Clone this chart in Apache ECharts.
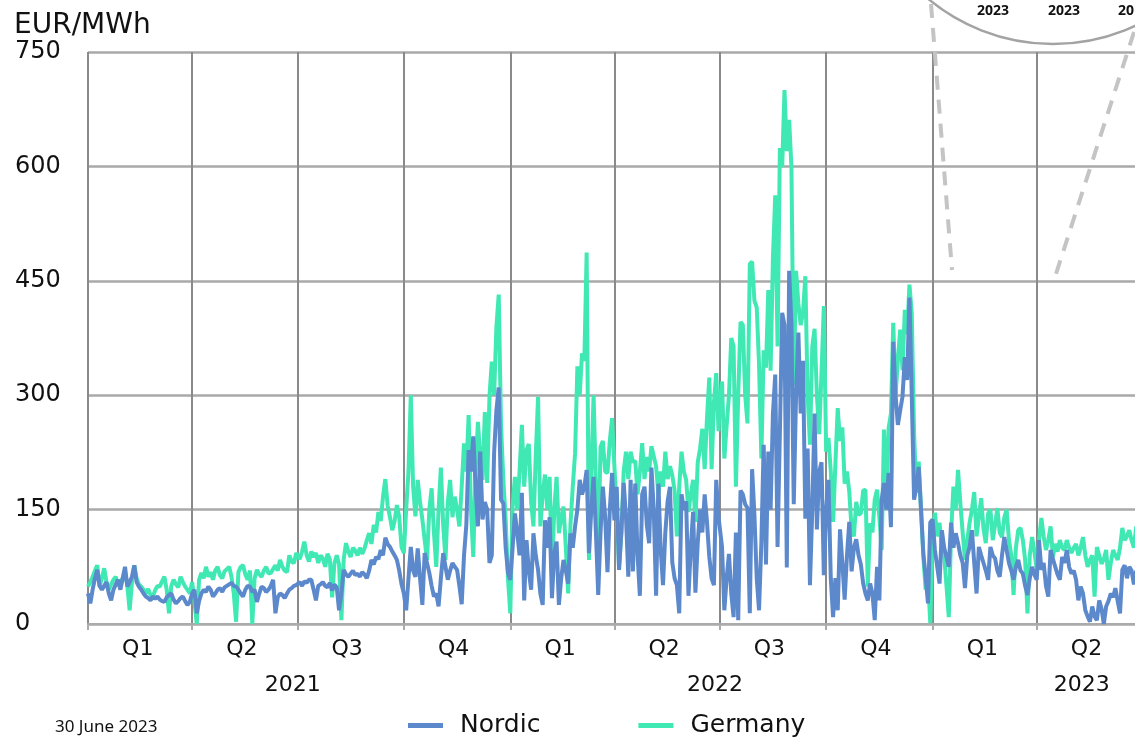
<!DOCTYPE html>
<html>
<head>
<meta charset="utf-8">
<title>Nordic vs Germany power price</title>
<script src="https://cdn.jsdelivr.net/npm/echarts@6/dist/echarts.min.js"></script>
<style>
  html, body { margin: 0; padding: 0; background: #fff; }
  #chart { width: 1135px; height: 739px; }
</style>
</head>
<body>
<div id="chart"></div>
<script>
// day index (from 1 Jan 2021) where each quarter starts, last one = 1 Jul 2023
const quarterStarts = [0, 90, 181, 273, 365, 455, 546, 638, 730, 820, 911];
const quarterLabels = ["Q1", "Q2", "Q3", "Q4", "Q1", "Q2", "Q3", "Q4", "Q1", "Q2"];
const yearLabels = ["2021", "2022", "2023"];
const yearLabelDays = [177, 542, 859];
const stepDays = 2; // one reading every second day
const insetLabels = ["2023", "2023", "20"];

// EUR/MWh, Germany, per quarter
const de21q1 = [49,55,62,70,77,49,60,73,55,45,52,58,62,50,55,60,67,50,18,55,77,60,52,49,45,40,46,38,36,44,50,49,56,62,45,14,50,58,52,48,62,55,49,45,40];
const de21q2 = [55,30,0,58,67,60,75,62,68,58,70,75,64,60,69,72,75,62,40,3,68,75,77,65,58,70,0,60,71,65,62,70,75,66,67,72,77,70,84,75,70,68,90,82,80,93];
const de21q3 = [93,85,95,108,90,82,95,88,93,80,90,86,75,92,85,35,80,90,78,5,85,106,95,88,100,96,90,100,92,99,110,119,105,130,120,147,135,167,190,155,140,123,135,156,140,101];
const de21q4 = [93,150,200,300,180,141,189,160,137,110,84,150,178,120,75,150,205,130,84,160,189,140,167,150,128,180,237,200,274,150,88,200,265,220,189,278,185,298,344,300,390,432,260,189,137,60];
const de22q1 = [14,154,193,150,200,261,180,228,236,160,128,220,298,128,170,196,150,193,66,150,193,119,140,154,100,40,130,180,224,338,300,355,345,487,84,200,300,180,93,232,240,200,198,240,270];
const de22q2 = [206,150,75,120,200,226,190,226,212,214,170,200,237,190,219,200,233,220,207,170,200,180,226,190,207,195,175,115,180,226,200,189,147,170,189,134,212,230,256,203,270,323,203,290,329,253];
const de22q3 = [290,318,217,260,300,375,364,180,300,396,392,300,263,472,475,424,415,340,217,359,336,438,332,480,562,364,624,599,700,620,661,599,313,463,420,392,408,456,300,235,364,387,300,249,330,417];
const de22q4 = [226,244,200,134,210,283,240,258,184,200,173,124,115,160,143,145,175,176,49,132,120,163,176,140,97,255,158,257,276,395,300,346,386,333,412,380,445,407,250,172,213,150,88,45,60,1];
const de23q1 = [120,146,115,133,100,90,50,9,119,180,150,202,158,120,84,110,133,150,173,115,140,165,125,106,145,150,110,130,152,120,114,140,150,110,90,38,100,123,126,110,84,14,90,114,95];
const de23q2 = [71,110,139,115,97,110,128,88,105,95,110,100,97,110,100,93,100,105,90,100,114,90,75,84,90,36,101,90,79,85,97,58,80,97,90,84,100,126,110,115,123,110,100,128,110,125];

// EUR/MWh, Nordic system, per quarter
const no21q1 = [40,27,45,60,71,50,45,50,55,40,31,45,52,58,45,60,75,49,55,62,77,55,49,45,40,36,34,31,36,33,36,32,30,29,35,38,40,32,27,30,34,36,30,25,29];
const no21q2 = [40,45,14,30,40,45,42,49,45,36,40,45,47,42,48,50,52,54,50,49,45,40,36,45,50,49,42,45,29,40,49,47,42,45,50,58,14,35,40,38,34,40,45,47,50,51];
const no21q3 = [52,55,50,56,54,58,58,45,31,50,52,55,50,48,54,44,52,48,18,40,71,65,62,66,70,64,66,62,68,65,60,70,84,78,88,85,97,90,113,105,101,95,90,84,70,52];
const no21q4 = [40,18,60,101,70,62,99,60,25,93,80,67,50,36,40,23,60,93,75,58,70,80,75,71,50,26,90,130,228,200,246,180,128,226,137,160,150,80,90,224,280,310,163,158,100,67];
const no22q1 = [58,100,145,120,90,172,31,110,70,45,119,90,71,40,25,136,100,140,34,93,108,25,60,84,70,53,119,100,128,150,189,170,180,202,93,150,193,120,38,120,180,140,68,150,198];
const no22q2 = [136,180,71,120,185,140,62,189,69,184,90,37,170,180,130,106,205,150,37,184,97,51,120,161,180,81,60,51,14,170,150,161,37,100,147,41,106,150,120,170,134,88,60,51,189,140];
const no22q3 = [140,101,18,60,92,40,9,120,5,175,170,157,152,14,203,143,60,18,106,235,78,226,150,276,327,101,250,408,392,74,463,392,157,300,382,276,345,138,230,51,150,276,124,200,212,64];
const no22q4 = [150,189,60,9,60,18,124,80,32,90,134,69,100,111,90,78,53,40,31,53,40,5,75,31,163,185,150,198,127,370,300,261,280,298,350,320,428,300,163,180,206,150,93,62,27,133];
const no23q1 = [137,97,75,53,123,100,88,75,133,100,119,106,90,80,47,90,101,123,80,40,101,90,80,70,58,101,90,86,70,62,90,114,97,80,70,58,75,84,70,66,50,38,60,75,65];
const no23q2 = [58,110,71,80,50,36,97,85,75,65,58,88,80,97,75,66,70,58,31,49,40,18,10,3,23,10,5,31,20,0,23,30,40,35,47,30,14,71,77,60,75,70,52,70,60,40];

const germanyQuarters = [de21q1, de21q2, de21q3, de21q4, de22q1, de22q2, de22q3, de22q4, de23q1, de23q2];
const nordicQuarters = [no21q1, no21q2, no21q3, no21q4, no22q1, no22q2, no22q3, no22q4, no23q1, no23q2];

// turn the quarter lists into [dayIndex, value] pairs
function toPoints(quarters) {
  const out = [];
  quarters.forEach((vals, q) => {
    vals.forEach((v, i) => out.push([quarterStarts[q] + i * stepDays, v]));
  });
  return out;
}

const lastDay = quarterStarts[quarterStarts.length - 1];
const dayCats = [];
for (let d = 0; d <= lastDay; d++) dayCats.push(d);

const qLabelDays = quarterStarts.slice(0, -1).map((d) => d + 43);
const font = "'DejaVu Sans', sans-serif";
const textColor = "#111";

const chart = echarts.init(document.getElementById("chart"));

const option = {
  animation: false,
  backgroundColor: "#fff",
  title: [
    {
      text: "EUR/MWh",
      left: 14,
      top: 12,
      padding: 0,
      textStyle: { fontSize: 28, fontWeight: "normal", color: textColor, fontFamily: font },
    },
    {
      text: "30 June 2023",
      left: 55,
      top: 719,
      padding: 0,
      textStyle: { fontSize: 17, fontWeight: "normal", color: textColor, fontFamily: "'Noto Sans', sans-serif" },
    },
  ],
  legend: {
    data: ["Nordic", "Germany"],
    left: 403,
    top: 708,
    icon: "rect",
    itemWidth: 35,
    itemHeight: 5,
    itemGap: 98,
    textStyle: { fontSize: 25, color: textColor, fontFamily: font, padding: [0, 0, 0, 12] },
  },
  grid: {
    left: 88,
    right: -7,
    top: 52,
    bottom: 115,
    containLabel: false,
    outerBoundsMode: "none",
  },
  xAxis: [
    {
      type: "category",
      data: dayCats,
      boundaryGap: false,
      axisLine: { show: true, lineStyle: { color: "#ababab", width: 2 } },
      axisTick: {
        show: true,
        interval: (i) => quarterStarts.indexOf(i) >= 0,
        length: 6,
        lineStyle: { color: "#ababab", width: 2 },
      },
      splitLine: {
        show: true,
        interval: (i) => quarterStarts.indexOf(i) >= 0,
        lineStyle: { color: "#8a8a8a", width: 2 },
      },
      axisLabel: {
        interval: (i) => qLabelDays.indexOf(i) >= 0,
        formatter: (v, i) => quarterLabels[qLabelDays.indexOf(i)],
        margin: 14,
        fontSize: 22,
        color: textColor,
        fontFamily: font,
      },
    },
    {
      type: "category",
      data: dayCats,
      boundaryGap: false,
      position: "bottom",
      offset: 36,
      axisLine: { show: false },
      axisTick: { show: false },
      splitLine: { show: false },
      axisLabel: {
        interval: (i) => yearLabelDays.indexOf(i) >= 0,
        formatter: (v, i) => yearLabels[yearLabelDays.indexOf(i)],
        margin: 14,
        fontSize: 22,
        color: textColor,
        fontFamily: font,
      },
    },
  ],
  yAxis: {
    type: "value",
    min: 0,
    max: 750,
    interval: 150,
    axisLine: { show: false },
    axisTick: { show: false },
    splitLine: { show: true, lineStyle: { color: "#a9a9a9", width: 2.5 } },
    axisLabel: {
      align: "left",
      margin: 73,
      fontSize: 24,
      color: textColor,
      fontFamily: font,
    },
  },
  series: [
    {
      name: "Germany",
      type: "line",
      data: toPoints(germanyQuarters),
      showSymbol: false,
      z: 2,
      lineStyle: { color: "#40e8b4", width: 4 },
      itemStyle: { color: "#40e8b4" },
    },
    {
      name: "Nordic",
      type: "line",
      data: toPoints(nordicQuarters),
      showSymbol: false,
      z: 3,
      lineStyle: { color: "#5c88cc", width: 4 },
      itemStyle: { color: "#5c88cc" },
    },
  ],
  // cut-off zoom lens in the top right corner
  graphic: [
    {
      type: "circle",
      shape: { cx: 1053, cy: -151, r: 195 },
      style: { fill: null, stroke: "#a3a3a3", lineWidth: 2.5 },
      z: 10,
    },
    {
      type: "line",
      shape: { x1: 931, y1: 4, x2: 952, y2: 270 },
      style: { stroke: "#c4c4c4", lineWidth: 4, lineDash: [14, 10] },
      z: 10,
    },
    {
      type: "line",
      shape: { x1: 1134, y1: 32, x2: 1055, y2: 277 },
      style: { stroke: "#c4c4c4", lineWidth: 4, lineDash: [14, 10] },
      z: 10,
    },
    {
      type: "text",
      left: 977,
      top: 4,
      style: { text: insetLabels[0], fontSize: 14, fontWeight: "bold", fill: textColor, fontFamily: "'Noto Sans', sans-serif" },
      z: 10,
    },
    {
      type: "text",
      left: 1048,
      top: 4,
      style: { text: insetLabels[1], fontSize: 14, fontWeight: "bold", fill: textColor, fontFamily: "'Noto Sans', sans-serif" },
      z: 10,
    },
    {
      type: "text",
      left: 1118,
      top: 4,
      style: { text: insetLabels[2], fontSize: 14, fontWeight: "bold", fill: textColor, fontFamily: "'Noto Sans', sans-serif" },
      z: 10,
    },
  ],
};

chart.setOption(option);
</script>
</body>
</html>
